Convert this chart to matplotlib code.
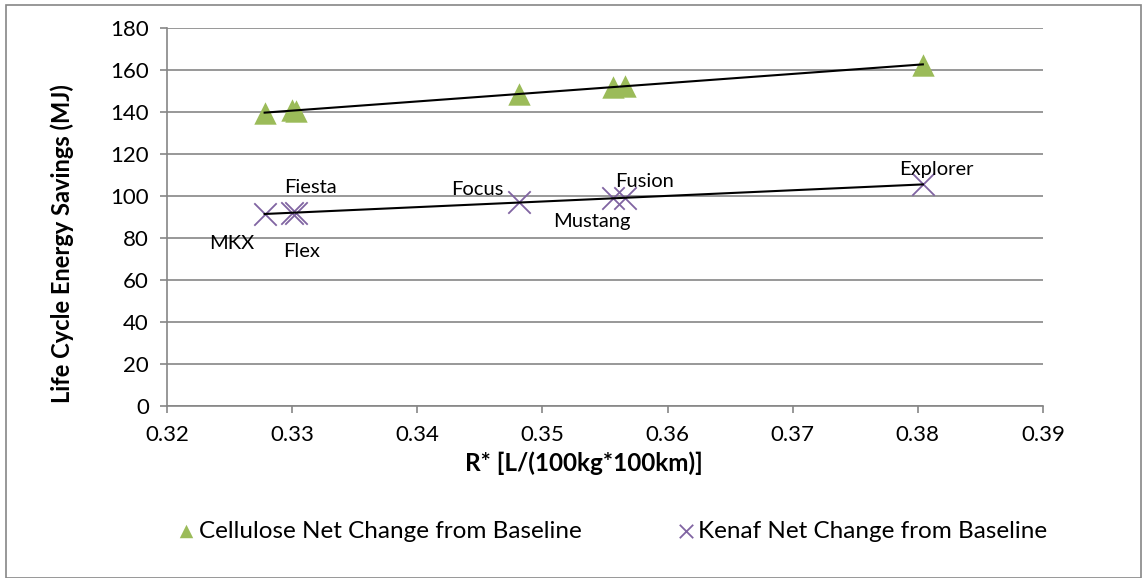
import numpy as np
import matplotlib
matplotlib.use("Agg")
import matplotlib.pyplot as plt
from matplotlib.patches import Rectangle

plt.rcParams['font.family'] = ['Lato', 'DejaVu Sans']

# data
models = ["MKX", "Fiesta", "Flex", "Focus", "Mustang", "Fusion", "Explorer"]
r_star = [0.3278, 0.3300, 0.3303, 0.3481, 0.3556, 0.3566, 0.3804]
cellulose = [139.5, 141.0, 140.5, 148.5, 152.0, 152.5, 162.5]
kenaf = [91.5, 92.0, 92.0, 97.0, 99.0, 99.0, 105.5]

# label offsets (points) for the kenaf annotations
label_offsets = [(-24, -21), (13, 18), (4, -28), (-30, 9), (-15, -17), (14, 12), (10, 11)]

green = "#9BBB59"
purple = "#8064A2"
grid_col = "#868686"

fig = plt.figure(figsize=(11.45, 5.78), dpi=100)
ax = fig.add_axes([167 / 1145, 1 - 406 / 578, (1043 - 167) / 1145, (406 - 28) / 578])

ax.scatter(r_star, cellulose, marker="^", s=260, color=green, zorder=3,
           label="Cellulose Net Change from Baseline", linewidths=0)
ax.scatter(r_star, kenaf, marker="x", s=260, color=purple, zorder=3,
           label="Kenaf Net Change from Baseline", linewidths=1.3)

# linear trend lines
x = np.array(r_star)
for series in (cellulose, kenaf):
    k, b = np.polyfit(x, series, 1)
    xs = np.array([x.min(), x.max()])
    ax.plot(xs, k * xs + b, color="black", lw=1.5, zorder=4)

for name, xv, yv, off in zip(models, r_star, kenaf, label_offsets):
    ax.annotate(name, (xv, yv), xytext=off, textcoords="offset points",
                ha="center", va="center", fontsize=14.5)

ax.set_xlim(0.32, 0.39)
ax.set_ylim(0, 180)
ax.set_xticks(np.arange(0.32, 0.3901, 0.01))
ax.set_xticklabels([f"{v:.2f}" for v in np.arange(0.32, 0.3901, 0.01)])
ax.set_yticks(range(0, 181, 20))
ax.tick_params(labelsize=16, length=5, color=grid_col, width=1.2)
ax.tick_params(axis="x", pad=9)
ax.tick_params(axis="y", pad=8)
ax.yaxis.grid(True, color=grid_col, lw=1.2)
ax.set_axisbelow(True)
for s in ("top", "right"):
    ax.spines[s].set_visible(False)
for s in ("left", "bottom"):
    ax.spines[s].set_color(grid_col)
    ax.spines[s].set_linewidth(1.2)

ax.set_xlabel("R* [L/(100kg*100km)]", fontsize=17.5, fontweight="bold")
ax.set_ylabel("Life Cycle Energy Savings (MJ)", fontsize=17, fontweight="bold")
ax.xaxis.set_label_coords(0.476, -(463 - 406) / 378)
ax.yaxis.set_label_coords(-(167 - 62) / 876, (406 - 244) / 378)
ax.xaxis.label.set_va("center")
ax.yaxis.label.set_va("center")

fig.legend(loc="center", bbox_to_anchor=(0.528, 1 - 531 / 578), ncol=2, frameon=False,
           fontsize=17.5, columnspacing=3.3, handletextpad=-0.5, markerscale=0.6)

fig.patches.append(Rectangle((6 / 1145, 0), 1 - 10 / 1145, 1 - 5 / 578,
                             transform=fig.transFigure, fill=False,
                             edgecolor=grid_col, lw=1.2))

fig.savefig("out.png", dpi=100)
